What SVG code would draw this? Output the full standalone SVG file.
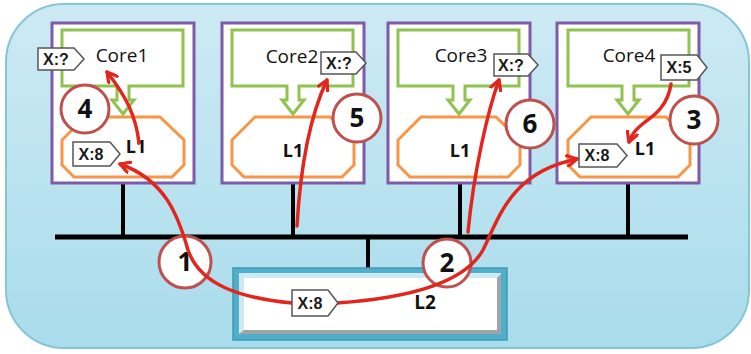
<svg xmlns="http://www.w3.org/2000/svg" width="751" height="354" viewBox="0 0 751 354">
<defs>
<linearGradient id="bg" x1="0" y1="0" x2="0" y2="1">
<stop offset="0" stop-color="#cdeaf4"/>
<stop offset="1" stop-color="#a9dcec"/>
</linearGradient>
<marker id="ah" viewBox="0 0 12 12" refX="10" refY="6" markerWidth="13" markerHeight="13" markerUnits="userSpaceOnUse" orient="auto">
<path d="M1,1 L10,6 L1,11" fill="none" stroke="#e3261d" stroke-width="3" stroke-linecap="round" stroke-linejoin="round"/>
</marker>
<style>
.core{fill:#fff;stroke:#7f5aa8;stroke-width:3}
.cpu{fill:#fff;stroke:#8fc24f;stroke-width:3}
.l1{fill:#fff;stroke:#f79646;stroke-width:3}
.bus{stroke:#000;stroke-width:5;fill:none}
.stub{stroke:#000;stroke-width:4;fill:none}
.tag{fill:#fff;stroke:#555;stroke-width:1.5}
.tt{font-family:"Liberation Sans",Arimo,sans-serif;font-size:16px;font-weight:bold;fill:#1a1a1a;text-anchor:middle}
.ct{font-family:"Open Sans","Liberation Sans",sans-serif;font-size:19px;fill:#111;text-anchor:middle}
.lt{font-family:"Open Sans","Liberation Sans",sans-serif;font-size:18px;font-weight:bold;fill:#111;text-anchor:middle}
.num{fill:#fff;stroke:#c0504d;stroke-width:3}
.nt{font-family:"Open Sans","Liberation Sans",sans-serif;font-size:26px;font-weight:bold;fill:#111;text-anchor:middle}
.arr{fill:none;stroke:#e3261d;stroke-width:3.5;stroke-linecap:round;marker-end:url(#ah)}
</style>
</defs>

<rect x="6" y="4" width="743" height="344" rx="58" fill="url(#bg)" stroke="#86c5d8" stroke-width="2"/>

<g id="bus">
<line class="bus" x1="55" y1="237" x2="688" y2="237"/>
<line class="stub" x1="123" y1="183" x2="123" y2="237"/>
<line class="stub" x1="293" y1="183" x2="293" y2="237"/>
<line class="stub" x1="460" y1="183" x2="460" y2="237"/>
<line class="stub" x1="628" y1="183" x2="628" y2="237"/>
<line class="stub" x1="368" y1="237" x2="368" y2="268"/>
</g>

<g id="core1">
<rect class="core" x="52" y="23" width="142" height="160"/>
<path class="cpu" d="M62,30 H183 V86 H129 V100 H134 L123,114 L112,100 H117 V86 H62 Z"/>
<path class="l1" d="M85,117 H160 L184,140 V165 L172,177 H74 L62,165 V140 Z"/>
<text class="ct" x="122" y="62">Core1</text>
<text class="lt" x="136" y="153">L1</text>
</g>

<g id="core2">
<rect class="core" x="222" y="23" width="142" height="160"/>
<path class="cpu" d="M232,30 H353 V86 H299 V100 H304 L293,114 L282,100 H287 V86 H232 Z"/>
<path class="l1" d="M255,117 H330 L354,140 V165 L342,177 H244 L232,165 V140 Z"/>
<text class="ct" x="292" y="63">Core2</text>
<text class="lt" x="293" y="157">L1</text>
</g>

<g id="core3">
<rect class="core" x="388" y="23" width="142" height="160"/>
<path class="cpu" d="M398,30 H519 V86 H465 V100 H470 L459,114 L448,100 H453 V86 H398 Z"/>
<path class="l1" d="M421,117 H496 L520,140 V165 L508,177 H410 L398,165 V140 Z"/>
<text class="ct" x="461" y="62">Core3</text>
<text class="lt" x="460" y="157">L1</text>
</g>

<g id="core4">
<rect class="core" x="557" y="23" width="142" height="160"/>
<path class="cpu" d="M568,30 H689 V86 H634 V100 H639 L628,114 L617,100 H622 V86 H568 Z"/>
<path class="l1" d="M591,117 H666 L690,140 V165 L678,177 H580 L568,165 V140 Z"/>
<text class="ct" x="629" y="62">Core4</text>
<text class="lt" x="645" y="155">L1</text>
</g>

<g id="l2">
<rect x="233" y="268" width="274" height="72" fill="#52afc9" stroke="#3d9bb6" stroke-width="1.5"/>
<rect x="239" y="273" width="262" height="61" fill="#cfe9f2"/>
<path d="M497,278 L501,274 V334 H239 L244,330 H497 Z" fill="#9aa6aa"/>
<rect x="244" y="278" width="253" height="52" fill="#fff"/>
<text class="lt" x="425" y="309" style="font-size:19px">L2</text>
</g>

<g id="markers">
<g id="n4"><circle class="num" cx="85" cy="109" r="24"/><text class="nt" x="85" y="118">4</text></g>
<g id="n5"><circle class="num" cx="357" cy="118" r="24"/><text class="nt" x="357" y="127">5</text></g>
<g id="n6"><circle class="num" cx="530" cy="124" r="24"/><text class="nt" x="530" y="133">6</text></g>
<g id="n3"><circle class="num" cx="694" cy="120" r="24"/><text class="nt" x="694" y="129">3</text></g>
<g id="n1"><circle class="num" cx="185" cy="262" r="26"/><text class="nt" x="185" y="271">1</text></g>
<g id="n2"><circle class="num" cx="447" cy="263" r="24"/><text class="nt" x="447" y="272">2</text></g>
</g>

<g id="connectors">
<path class="arr" d="M292,303 C240,298 200,285 188,250 C178,215 165,180 120,164"/>
<path class="arr" d="M337,303 C410,298 465,282 483,250 C500,215 512,172 577,159"/>
<path class="arr" d="M297,226 C300,175 308,120 327,80"/>
<path class="arr" d="M468,232 C474,170 488,110 499,80"/>
<path class="arr" d="M139,143 C136,115 125,95 107,72"/>
<path class="arr" d="M671,84 C668,105 655,115 645,122 C635,130 632,134 629,142"/>
</g>

<g id="tags">
<g id="t1"><path class="tag" d="M38,48 H74 L84,59 L74,70 H38 Z"/><text class="tt" x="56" y="65">X:?</text></g>
<g id="t2"><path class="tag" d="M321,52 H356 L366,63 L356,74 H321 Z"/><text class="tt" x="339" y="69">X:?</text></g>
<g id="t3"><path class="tag" d="M494,54 H528 L538,65 L528,76 H494 Z"/><text class="tt" x="511" y="71">X:?</text></g>
<g id="t4"><path class="tag" d="M661,55 H697 L707,67.5 L697,80 H661 Z"/><text class="tt" x="679" y="73">X:5</text></g>
<g id="t5"><path class="tag" d="M73,142 H110 L120,154 L110,166 H73 Z"/><text class="tt" x="91" y="160">X:8</text></g>
<g id="t6"><path class="tag" d="M579,144 H617 L627,155.5 L617,167 H579 Z"/><text class="tt" x="597" y="161">X:8</text></g>
<g id="t7"><path class="tag" d="M292,290 H328 L338,303 L328,316 H292 Z"/><text class="tt" x="310" y="309">X:8</text></g>
</g>
</svg>
